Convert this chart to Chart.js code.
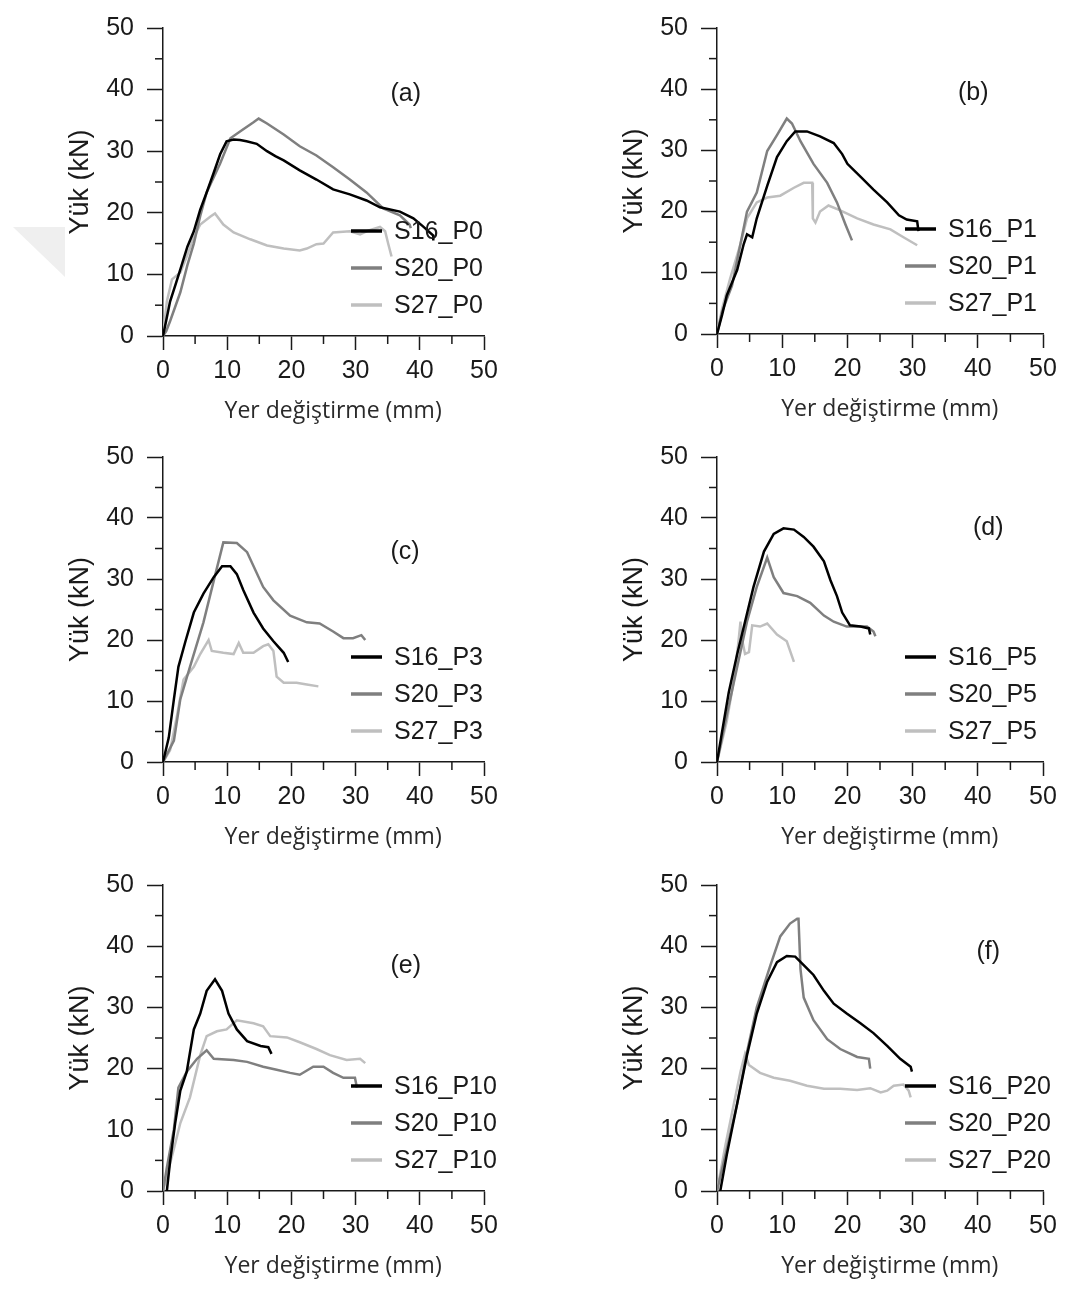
<!DOCTYPE html>
<html>
<head>
<meta charset="utf-8">
<script src="https://cdn.jsdelivr.net/npm/chart.js@4.4.0/dist/chart.umd.min.js"></script>
<style>
  body { margin: 0; background: #fff; width: 1073px; height: 1290px; position: relative; overflow: hidden; }
  canvas { position: absolute; }
  #mark { position: absolute; left: 13px; top: 227px; width: 52px; height: 50px; background: #efefef;
          clip-path: polygon(0 0, 100% 0, 100% 100%); }
</style>
</head>
<body>
<div id="mark"></div>
<canvas id="pa"></canvas>
<canvas id="pb"></canvas>
<canvas id="pc"></canvas>
<canvas id="pd"></canvas>
<canvas id="pe"></canvas>
<canvas id="pf"></canvas>
<script>
// --- Data (displacement mm, load kN) ---
const a_S16 = [[0,0],[0.5,2.5],[1.1,5.6],[2.0,8.5],[2.7,10.8],[3.8,14.5],[4.8,17],[5.8,20.5],[6.8,23.3],[7.9,26.5],[8.9,29.5],[9.9,31.6],[11,31.9],[12,31.8],[13,31.6],[14.6,31.2],[16.2,30],[17.5,29.2],[18.8,28.5],[21.3,26.9],[23.9,25.4],[26.5,23.8],[29.1,23],[31.7,22],[33.8,20.9],[36.9,20.2],[39,19.1],[40.5,17.8],[42.1,16.3],[42.1,15.5]];
const a_S20 = [[0,0],[0.5,0.8],[1.1,2.4],[2.7,7.1],[3.8,11.5],[4.8,15],[5.8,19.5],[6.8,23.3],[8.9,28],[10.5,32.1],[12,33.2],[14.1,34.7],[14.9,35.3],[16.2,34.5],[18.8,32.7],[21.3,30.8],[23.9,29.3],[26.5,27.4],[29.1,25.4],[31.7,23.3],[34.3,20.7],[36.9,19.6],[38.4,18.1],[38.6,17.5]];
const a_S27 = [[0,0],[0.6,5.6],[1.4,9.2],[2.7,10.3],[3.7,12.9],[4.8,16],[5.8,18.1],[7.4,19.4],[8.1,19.9],[9.4,18.1],[11,16.8],[13.6,15.7],[16.2,14.7],[18.8,14.2],[21.3,13.9],[22.4,14.2],[23.9,14.9],[25,15],[26.5,16.8],[29.1,17],[30.7,16.5],[31.7,17],[33.8,17.7],[34.6,17],[35.1,14.9],[35.6,12.9]];

const b_S16 = [[0,0],[0.8,3.2],[1.5,6.3],[3.1,10.5],[4.1,14.7],[4.6,16.3],[5.4,15.8],[6.1,18.9],[7.7,24.2],[9.2,28.9],[10.7,31.5],[12,33.1],[13.8,33.1],[15.8,32.3],[17.9,31.2],[19.2,29.4],[20,27.8],[22,25.7],[24,23.6],[26.1,21.5],[27.9,19.4],[29.1,18.7],[30.7,18.4],[30.9,16.8]];
const b_S20 = [[0,0],[0.8,3.7],[2.3,7.9],[3.6,14.7],[4.6,20],[6.1,23.1],[7.7,29.9],[9.2,32.5],[10.7,35.2],[11.5,34.4],[12.8,31.5],[14.8,27.8],[16.9,24.7],[18.4,21.5],[19.7,17.9],[20.7,15.3]];
const b_S27 = [[0,0],[0.8,4.2],[2,9],[3.6,14.7],[4.6,18.9],[6.1,21.5],[7.7,22.3],[9.7,22.6],[11.8,23.9],[13.3,24.7],[14.6,24.7],[14.7,18.9],[15.1,18.2],[15.8,20],[17.1,21],[18.9,20.2],[21.5,18.9],[24,17.9],[26.6,17.1],[28.6,15.8],[30.7,14.5]];

const c_S16 = [[0,0],[0.9,4],[1.7,10.3],[2.4,15.6],[3.5,19.8],[4.8,24.5],[6.3,27.6],[7.9,30.3],[9.2,32.1],[10.5,32.1],[11.5,30.8],[12.5,28.2],[14.1,24.5],[15.6,21.9],[17.2,19.8],[18.8,17.9],[19.5,16.4]];
const c_S20 = [[0,0],[1.7,3.5],[2.7,10.3],[4.2,15.6],[6.3,22.9],[7.9,29.7],[9.4,36],[11.5,35.9],[13.1,34.4],[15.6,28.7],[17.2,26.5],[19.8,24],[22.4,22.9],[24.4,22.7],[26.5,21.4],[28.1,20.3],[29.6,20.3],[30.9,20.8],[31.5,20]];
const c_S27 = [[0,0],[1.1,1.9],[2.2,7.7],[3.2,13.5],[4.8,15.6],[5.8,17.7],[7.1,20],[7.6,18.2],[9.4,17.9],[11,17.7],[11.8,19.5],[12.5,17.9],[14.1,17.9],[15.6,19],[16.4,19.3],[17.2,18.2],[17.7,14],[18.8,13],[20.8,13],[22.4,12.7],[24.2,12.4]];

const d_S16 = [[0,0],[0.8,5.1],[1.8,11.4],[3.1,17.7],[4.3,23],[5.6,28.7],[7.2,34.5],[8.7,37.4],[10.2,38.3],[11.8,38.1],[13.3,36.9],[14.8,35.3],[16.4,32.9],[17.4,29.8],[18.4,27.2],[19.2,24.5],[20.4,22.4],[22,22.2],[23.3,21.9],[23.5,20.9]];
const d_S20 = [[0,0],[1.5,7.7],[3.1,15.6],[4.6,23],[6.1,28.7],[7.7,33.5],[8.7,30.3],[10.2,27.7],[12.3,27.2],[14.3,26.1],[16.4,24],[17.9,23],[19.9,22.2],[23,22.2],[24,21.4],[24.3,20.6]];
const d_S27 = [[0,0],[1.5,6.7],[2.6,13.5],[3.3,19.8],[3.6,23],[3.8,20.3],[4.3,17.7],[4.9,18],[5.4,22.4],[6.6,22.2],[7.7,22.7],[9.2,20.9],[10.7,19.8],[11.8,16.4]];

const e_S16 = [[0.6,0],[1.1,4.8],[1.9,11.1],[2.7,16.4],[3.7,19.5],[4.8,26.4],[5.8,29],[6.8,32.7],[8.1,34.6],[9.2,32.7],[10.2,29],[11.5,26.4],[13.1,24.5],[15.2,23.7],[16.4,23.5],[16.9,22.4]];
const e_S20 = [[0,0],[0.6,3.8],[1.7,10.1],[2.4,16.9],[3.7,19.5],[5.3,21.6],[6.8,23],[7.9,21.6],[11,21.4],[13.1,21.1],[15.6,20.3],[17.7,19.8],[19.8,19.3],[21.3,19],[23.4,20.3],[25,20.3],[26.5,19.3],[28.1,18.5],[29.9,18.5],[30.2,16.9]];
const e_S27 = [[0,0],[1.7,6.9],[2.7,11.1],[4.2,15.3],[5.8,22.2],[6.8,25.3],[8.4,26.1],[9.9,26.4],[11.5,27.9],[14.1,27.4],[15.6,26.9],[16.7,25.3],[19.3,25.1],[21.3,24.3],[23.9,23.2],[26,22.2],[28.6,21.4],[30.7,21.6],[31.5,20.9]];

const f_S16 = [[0.5,0],[1.5,5.9],[3.1,14.3],[4.6,22.2],[6.1,29],[7.7,34.2],[9.2,37.4],[10.7,38.4],[12,38.3],[13.3,36.9],[14.8,35.3],[16.4,32.7],[17.9,30.6],[19.9,29],[22,27.4],[24,25.8],[26.1,23.7],[28.1,21.6],[29.7,20.3],[29.9,19.5]];
const f_S20 = [[0,0],[1.3,5.9],[3.1,14.3],[4.6,22.7],[6.1,30],[8.2,36.9],[9.7,41.6],[11.2,43.7],[12.3,44.5],[12.5,44.5],[12.8,36.3],[13.3,31.6],[14.8,27.9],[16.9,24.8],[18.9,23.2],[21.5,21.9],[23.3,21.6],[23.5,20]];
const f_S27 = [[0,0],[1.3,7.5],[2.6,14.3],[3.6,19.5],[4.3,22.4],[4.9,20.6],[6.6,19.3],[8.7,18.5],[11.2,18],[13.8,17.2],[16.4,16.7],[18.9,16.7],[21.5,16.5],[23.5,16.8],[25.1,16.1],[26.1,16.4],[27.1,17.2],[28.6,17.4],[29.4,16.4],[29.7,15.3]];

const seriesNames = ["S16", "S20", "S27"];
const seriesColors = ["#000000", "#7f7f7f", "#bfbfbf"];
const xTicks = [0, 10, 20, 30, 40, 50];
const yTicks = [0, 10, 20, 30, 40, 50];
const minorTicks = [5, 15, 25, 35, 45];
const xTitle = "Yer değiştirme (mm)";
const yTitle = "Yük (kN)";

// --- Panel setup ---
const panels = [
  { id: "pa", suffix: "P0",  data: [a_S16, a_S20, a_S27], letter: "(a)", at: [37.8, 39.2], left: 0,   top: 0,   w: 536, h: 432, right: 52 },
  { id: "pb", suffix: "P1",  data: [b_S16, b_S20, b_S27], letter: "(b)", at: [39.3, 39.4], left: 554, top: 0,   w: 519, h: 430, right: 30 },
  { id: "pc", suffix: "P3",  data: [c_S16, c_S20, c_S27], letter: "(c)", at: [37.7, 34.4], left: 0,   top: 429, w: 536, h: 429, right: 52 },
  { id: "pd", suffix: "P5",  data: [d_S16, d_S20, d_S27], letter: "(d)", at: [41.6, 38.4], left: 554, top: 429, w: 519, h: 429, right: 30 },
  { id: "pe", suffix: "P10", data: [e_S16, e_S20, e_S27], letter: "(e)", at: [37.8, 36.8], left: 0,   top: 857, w: 536, h: 430, right: 52 },
  { id: "pf", suffix: "P20", data: [f_S16, f_S20, f_S27], letter: "(f)", at: [41.6, 39.0], left: 554, top: 857, w: 519, h: 430, right: 30 }
];

const AXIS = "#1a1a1a";
const TEXT = "#1a1a1a";
const ARIAL = "'Liberation Sans', Arial, sans-serif";

// minor ticks, x title, panel letter and legend
const extras = {
  id: "extras",
  afterDraw(chart) {
    const { ctx, chartArea: ca, scales: { x, y } } = chart;
    const p = chart.options.plugins.extras;
    ctx.save();
    ctx.strokeStyle = AXIS;
    ctx.lineWidth = 1.5;
    for (const v of minorTicks) {
      const px = x.getPixelForValue(v);
      ctx.beginPath(); ctx.moveTo(px, ca.bottom); ctx.lineTo(px, ca.bottom + 8); ctx.stroke();
      const py = y.getPixelForValue(v);
      ctx.beginPath(); ctx.moveTo(ca.left - 8, py); ctx.lineTo(ca.left, py); ctx.stroke();
    }

    // x-axis title, sits a little right of centre in the original
    ctx.fillStyle = "#2a2a2a";
    ctx.font = "23px 'Open Sans', sans-serif";
    ctx.textAlign = "center";
    ctx.textBaseline = "middle";
    ctx.fillText(xTitle, x.getPixelForValue(26.5), ca.bottom + 75);

    ctx.fillStyle = TEXT;
    ctx.font = "25px " + ARIAL;
    ctx.fillText(p.letter, x.getPixelForValue(p.at[0]), y.getPixelForValue(p.at[1]));

    ctx.textAlign = "left";
    chart.data.datasets.forEach((ds, i) => {
      const ly = ca.bottom - 105 + i * 37;
      const lx = ca.left + 188;
      ctx.strokeStyle = ds.borderColor;
      ctx.lineWidth = 3.5;
      ctx.beginPath(); ctx.moveTo(lx, ly); ctx.lineTo(lx + 31, ly); ctx.stroke();
      ctx.fillStyle = TEXT;
      ctx.fillText(ds.label, lx + 43, ly + 1);
    });
    ctx.restore();
  }
};

function axisOpts(isX, ticks) {
  return {
    type: "linear",
    min: 0,
    max: 50,
    afterBuildTicks: (s) => { s.ticks = ticks.concat(minorTicks).sort((a, b) => a - b).map(v => ({ value: v })); },
    afterFit: (s) => { if (isX) s.height = 96; else s.width = 163; },
    border: { display: true, color: AXIS, width: 1.5 },
    grid: {
      display: true,
      drawOnChartArea: false,
      drawTicks: true,
      tickLength: isX ? 14 : 16,
      tickWidth: 1.5,
      tickColor: (c) => (c.tick && c.tick.value % 10 === 0 ? AXIS : "rgba(0,0,0,0)")
    },
    ticks: {
      autoSkip: false,
      maxRotation: 0,
      padding: isX ? 6 : 13,
      color: TEXT,
      font: { family: ARIAL, size: 25 },
      callback: (v) => (v % 10 === 0 ? String(v) : "")
    },
    title: isX
      ? { display: false }
      : { display: true, text: yTitle, color: TEXT,
          font: { family: ARIAL, size: 27 }, padding: { top: 64, bottom: 0 } }
  };
}

panels.forEach((p) => {
  const cv = document.getElementById(p.id);
  cv.width = p.w;
  cv.height = p.h;
  cv.style.left = p.left + "px";
  cv.style.top = p.top + "px";

  new Chart(cv, {
    type: "line",
    data: {
      datasets: p.data.map((pts, i) => ({
        label: seriesNames[i] + "_" + p.suffix,
        data: pts.map(([x, y]) => ({ x, y })),
        borderColor: seriesColors[i],
        borderWidth: 2.5,
        pointRadius: 0,
        tension: 0,
        fill: false
      }))
    },
    options: {
      responsive: false,
      animation: false,
      devicePixelRatio: 1,
      layout: { padding: { left: 0, top: 16, right: p.right, bottom: 0 } },
      plugins: {
        legend: { display: false },
        tooltip: { enabled: false },
        extras: { letter: p.letter, at: p.at }
      },
      scales: { x: axisOpts(true, xTicks), y: axisOpts(false, yTicks) }
    },
    plugins: [extras]
  });
});
</script>
</body>
</html>
